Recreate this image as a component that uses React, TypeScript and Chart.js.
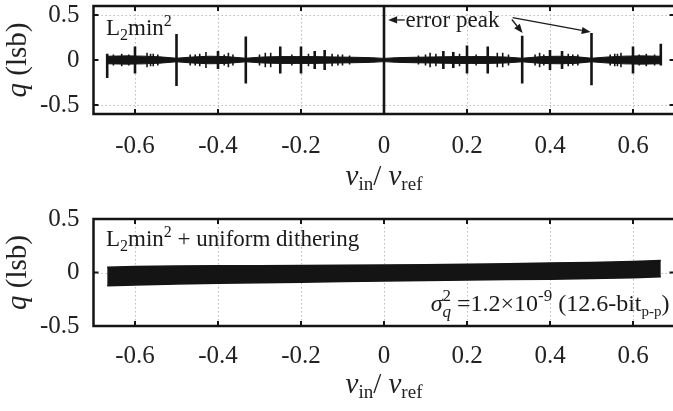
import React, { useEffect, useRef } from "react";
import { Chart, registerables } from "chart.js";
Chart.register(...registerables);

// ---------- axes ----------
const xTicks = [-0.6, -0.4, -0.2, 0, 0.2, 0.4, 0.6];
const xTickLabels = ["-0.6", "-0.4", "-0.2", "0", "0.2", "0.4", "0.6"];
const yTicks = [-0.5, 0, 0.5];
const yTickLabels = ["-0.5", "0", "0.5"];

// ---------- top panel: L2min2 quantisation error ----------
const bandX = [-0.667, -0.62, -0.58, -0.54, -0.5, -0.46, -0.42, -0.38, -0.333, -0.29, -0.25, -0.21, -0.17, -0.12, -0.07, -0.03, 0, 0.03, 0.07, 0.12, 0.17, 0.21, 0.25, 0.29, 0.333, 0.38, 0.42, 0.46, 0.5, 0.54, 0.58, 0.62, 0.667];
const bandHi = [0.042, 0.046, 0.043, 0.035, 0.02, 0.034, 0.042, 0.038, 0.02, 0.034, 0.038, 0.038, 0.038, 0.034, 0.03, 0.026, 0.018, 0.026, 0.03, 0.034, 0.038, 0.038, 0.038, 0.034, 0.02, 0.038, 0.042, 0.038, 0.02, 0.034, 0.043, 0.046, 0.042];
const bandLo = [-0.042, -0.046, -0.043, -0.035, -0.02, -0.034, -0.042, -0.038, -0.02, -0.034, -0.038, -0.038, -0.038, -0.034, -0.03, -0.026, -0.018, -0.026, -0.03, -0.034, -0.038, -0.038, -0.038, -0.034, -0.02, -0.038, -0.042, -0.038, -0.02, -0.034, -0.043, -0.046, -0.042];

const spikeX = [-0.667, -0.6, -0.5, -0.4, -0.333, -0.25, -0.2, -0.167, -0.143, 0, 0.143, 0.167, 0.2, 0.25, 0.333, 0.4, 0.429, 0.5, 0.6, 0.667];
const spikeHi = [0.07, 0.15, 0.29, 0.1, 0.26, 0.15, 0.15, 0.1, 0.11, 0.6, 0.1, 0.09, 0.16, 0.15, 0.27, 0.11, 0.1, 0.3, 0.15, 0.18];
const spikeLo = [-0.2, -0.15, -0.29, -0.1, -0.26, -0.15, -0.15, -0.1, -0.11, -0.6, -0.1, -0.09, -0.15, -0.15, -0.26, -0.11, -0.1, -0.28, -0.15, -0.06];

const minorX = [-0.652, -0.632, -0.615, -0.571, -0.5625, -0.556, -0.545, -0.467, -0.455, -0.444, -0.429, -0.385, -0.375, -0.364, -0.3, -0.286, -0.273, -0.222, -0.2, -0.182, -0.125, -0.111, -0.1, -0.083, 0.083, 0.1, 0.111, 0.125, 0.182, 0.222, 0.273, 0.286, 0.3, 0.364, 0.375, 0.385, 0.444, 0.455, 0.467, 0.545, 0.556, 0.5625, 0.571, 0.615, 0.632, 0.652];
const minorAmp = [0.06, 0.07, 0.06, 0.08, 0.07, 0.07, 0.06, 0.06, 0.06, 0.07, 0.09, 0.06, 0.08, 0.06, 0.06, 0.08, 0.08, 0.06, 0.06, 0.07, 0.07, 0.06, 0.06, 0.05, 0.05, 0.06, 0.08, 0.07, 0.07, 0.06, 0.08, 0.08, 0.06, 0.06, 0.08, 0.06, 0.07, 0.06, 0.06, 0.06, 0.07, 0.07, 0.08, 0.06, 0.07, 0.06];

// ---------- bottom panel: with uniform dithering ----------
const dithX = [-0.667, -0.6, -0.5, -0.4, -0.3, -0.2, -0.1, 0, 0.1, 0.2, 0.3, 0.4, 0.5, 0.6, 0.667];
const dithHi = [0.05, 0.055, 0.06, 0.062, 0.063, 0.066, 0.068, 0.07, 0.073, 0.077, 0.082, 0.088, 0.094, 0.103, 0.112];
const dithLo = [-0.125, -0.117, -0.108, -0.1, -0.095, -0.09, -0.085, -0.08, -0.075, -0.07, -0.066, -0.062, -0.056, -0.048, -0.04];

const SERIF = '"Liberation Serif", "Times New Roman", "DejaVu Serif", serif';
const INK = "#141414";

type Seg = { t: string; size: number; italic?: boolean; dy?: number; stack?: boolean };

function richWidth(ctx: CanvasRenderingContext2D, segs: Seg[]) {
  let w = 0;
  let pend = 0;
  for (const s of segs) {
    ctx.font = `${s.italic ? "italic " : ""}${s.size}px ${SERIF}`;
    const sw = ctx.measureText(s.t).width;
    if (s.stack) {
      pend = Math.max(pend, sw);
    } else {
      w += Math.max(sw, pend);
      pend = 0;
    }
  }
  return w + pend;
}

function drawRich(ctx: CanvasRenderingContext2D, segs: Seg[], x: number, y: number, align: "left" | "center" | "right" = "left") {
  const total = richWidth(ctx, segs);
  let cx = align === "left" ? x : align === "center" ? x - total / 2 : x - total;
  let pend = 0;
  ctx.textAlign = "left";
  ctx.textBaseline = "alphabetic";
  for (const s of segs) {
    ctx.font = `${s.italic ? "italic " : ""}${s.size}px ${SERIF}`;
    const sw = ctx.measureText(s.t).width;
    ctx.fillText(s.t, cx, y + (s.dy || 0));
    if (s.stack) {
      pend = Math.max(pend, sw);
    } else {
      cx += Math.max(sw, pend);
      pend = 0;
    }
  }
}

function arrow(ctx: CanvasRenderingContext2D, x0: number, y0: number, x1: number, y1: number) {
  const ang = Math.atan2(y1 - y0, x1 - x0);
  const L = 9, W = 3.6;
  const bx = x1 - L * Math.cos(ang), by = y1 - L * Math.sin(ang);
  ctx.beginPath();
  ctx.moveTo(x0, y0);
  ctx.lineTo(bx, by);
  ctx.stroke();
  ctx.beginPath();
  ctx.moveTo(x1, y1);
  ctx.lineTo(bx - W * Math.sin(ang), by + W * Math.cos(ang));
  ctx.lineTo(bx + W * Math.sin(ang), by - W * Math.cos(ang));
  ctx.closePath();
  ctx.fill();
}

function makePlugin(id: string, yGrid: number[], titleOffset: number, annotate: (chart: any, ctx: CanvasRenderingContext2D) => void) {
  return {
    id,
    beforeDatasetsDraw(chart: any) {
      const { ctx, chartArea: a, scales } = chart;
      const x = scales.x, y = scales.y;
      ctx.save();
      ctx.strokeStyle = "#bcbcbc";
      ctx.lineWidth = 1;
      ctx.setLineDash([1.5, 2.5]);
      for (const v of xTicks) {
        const px = Math.round(x.getPixelForValue(v)) + 0.5;
        ctx.beginPath();
        ctx.moveTo(px, a.top);
        ctx.lineTo(px, a.bottom);
        ctx.stroke();
      }
      for (const v of yGrid) {
        const py = Math.round(y.getPixelForValue(v)) + 0.5;
        ctx.beginPath();
        ctx.moveTo(a.left, py);
        ctx.lineTo(a.right, py);
        ctx.stroke();
      }
      ctx.restore();
    },
    afterDatasetsDraw(chart: any) {
      const { ctx, chartArea: a, scales } = chart;
      const x = scales.x, y = scales.y;
      ctx.save();
      ctx.strokeStyle = INK;
      ctx.lineWidth = 2.5;
      ctx.strokeRect(a.left, a.top, a.right - a.left, a.bottom - a.top);
      ctx.lineWidth = 2;
      const tl = 5;
      for (const v of xTicks) {
        const px = x.getPixelForValue(v);
        ctx.beginPath();
        ctx.moveTo(px, a.bottom);
        ctx.lineTo(px, a.bottom - tl);
        ctx.moveTo(px, a.top);
        ctx.lineTo(px, a.top + tl);
        ctx.stroke();
      }
      for (const v of yTicks) {
        const py = y.getPixelForValue(v);
        ctx.beginPath();
        ctx.moveTo(a.left, py);
        ctx.lineTo(a.left + tl, py);
        ctx.moveTo(a.right, py);
        ctx.lineTo(a.right - tl, py);
        ctx.stroke();
      }
      ctx.restore();
    },
    afterDraw(chart: any) {
      const { ctx, chartArea: a } = chart;
      ctx.save();
      ctx.fillStyle = "#222";
      drawRich(ctx, [
        { t: "v", size: 29, italic: true },
        { t: "in", size: 19, dy: 5 },
        { t: "/ ", size: 29 },
        { t: "v", size: 29, italic: true },
        { t: "ref", size: 19, dy: 5 },
      ], (a.left + a.right) / 2, a.bottom + titleOffset, "center");
      ctx.save();
      ctx.translate(26, (a.top + a.bottom) / 2);
      ctx.rotate(-Math.PI / 2);
      drawRich(ctx, [
        { t: "q", size: 29, italic: true },
        { t: " (lsb)", size: 29 },
      ], 0, 0, "center");
      ctx.restore();
      ctx.fillStyle = "#1a1a1a";
      ctx.strokeStyle = "#1a1a1a";
      annotate(chart, ctx);
      ctx.restore();
    },
  };
}

function pairs(xs: number[], ys: number[]) {
  return xs.map((v, i) => ({ x: v, y: ys[i] }));
}

function segments(xs: number[], hi: number[], lo: number[]) {
  const out: any[] = [];
  xs.forEach((v, i) => {
    out.push({ x: v, y: hi[i] });
    out.push({ x: v, y: lo[i] });
    out.push({ x: v, y: null });
  });
  return out;
}

function baseOptions(yMin: number, yMax: number, padTop: number, xAxisH: number, tickPad: number) {
  const tickFont = { family: SERIF, size: 25 };
  return {
    responsive: false,
    animation: false as const,
    events: [] as any[],
    layout: { autoPadding: false, padding: { left: 0, right: 15.5, top: padTop, bottom: 0 } },
    plugins: { legend: { display: false }, tooltip: { enabled: false } },
    elements: { point: { radius: 0 }, line: { tension: 0 } },
    scales: {
      x: {
        type: "linear" as const,
        min: -0.7,
        max: 0.7,
        afterBuildTicks: (s: any) => { s.ticks = xTicks.map((v) => ({ value: v })); },
        afterFit: (s: any) => { s.height = xAxisH; s.paddingLeft = 0; s.paddingRight = 0; s.paddingTop = 0; s.paddingBottom = 0; },
        ticks: {
          callback: (_v: any, i: number) => xTickLabels[i],
          font: tickFont,
          color: "#222",
          padding: tickPad,
          maxRotation: 0,
          autoSkip: false,
        },
        grid: { display: false, drawTicks: false },
        border: { display: false },
      },
      y: {
        type: "linear" as const,
        min: yMin,
        max: yMax,
        afterBuildTicks: (s: any) => { s.ticks = yTicks.map((v) => ({ value: v })); },
        afterFit: (s: any) => { s.width = 93.5; s.paddingTop = 0; s.paddingBottom = 0; s.paddingLeft = 0; s.paddingRight = 0; },
        ticks: {
          callback: (_v: any, i: number) => yTickLabels[i],
          font: tickFont,
          color: "#222",
          padding: 14,
          autoSkip: false,
        },
        grid: { display: false, drawTicks: false },
        border: { display: false },
      },
    },
  };
}

export default function App() {
  const topRef = useRef<HTMLCanvasElement>(null);
  const botRef = useRef<HTMLCanvasElement>(null);

  useEffect(() => {
    const topPlugin = makePlugin("frameTop", [-0.5, 0.5], 71, (chart, ctx) => {
      const x = chart.scales.x, y = chart.scales.y;
      drawRich(ctx, [
        { t: "L", size: 23 },
        { t: "2", size: 16, dy: 5 },
        { t: "min", size: 23 },
        { t: "2", size: 16, dy: -9 },
      ], x.getPixelForValue(-0.67), y.getPixelForValue(0.28));
      ctx.lineWidth = 1.3;
      arrow(ctx, x.getPixelForValue(0.05), y.getPixelForValue(0.445), x.getPixelForValue(0.01), y.getPixelForValue(0.445));
      drawRich(ctx, [{ t: "error peak", size: 23 }], x.getPixelForValue(0.052), y.getPixelForValue(0.37));
      arrow(ctx, x.getPixelForValue(0.308), y.getPixelForValue(0.45), x.getPixelForValue(0.334), y.getPixelForValue(0.3));
      arrow(ctx, x.getPixelForValue(0.31), y.getPixelForValue(0.47), x.getPixelForValue(0.498), y.getPixelForValue(0.31));
    });

    const botPlugin = makePlugin("frameBot", [0], 67, (chart, ctx) => {
      const x = chart.scales.x, y = chart.scales.y;
      drawRich(ctx, [
        { t: "L", size: 23 },
        { t: "2", size: 16, dy: 5 },
        { t: "min", size: 23 },
        { t: "2", size: 16, dy: -9 },
        { t: " + uniform dithering", size: 23 },
      ], x.getPixelForValue(-0.67), y.getPixelForValue(0.245));
      drawRich(ctx, [
        { t: "σ", size: 24, italic: true },
        { t: "q", size: 17, italic: true, dy: 6, stack: true },
        { t: "2", size: 17, dy: -10 },
        { t: " =1.2×10", size: 24 },
        { t: "-9", size: 17, dy: -10 },
        { t: " (12.6-bit", size: 24 },
        { t: "p-p", size: 15, dy: 5 },
        { t: ")", size: 24 },
      ], x.getPixelForValue(0.688), y.getPixelForValue(-0.36), "right");
    });

    const topChart = new Chart(topRef.current!, {
      type: "line",
      data: {
        datasets: [
          { data: pairs(bandX, bandHi), borderColor: INK, backgroundColor: INK, borderWidth: 1, fill: "+1" },
          { data: pairs(bandX, bandLo), borderColor: INK, borderWidth: 1, fill: false },
          { data: segments(minorX, minorAmp, minorAmp.map((v) => -v)), borderColor: INK, borderWidth: 1.6, spanGaps: false, fill: false },
          { data: segments(spikeX, spikeHi, spikeLo), borderColor: INK, borderWidth: 2.6, spanGaps: false, fill: false },
        ],
      } as any,
      options: baseOptions(-0.6, 0.6, 6, 86, 17) as any,
      plugins: [topPlugin],
    });

    const botChart = new Chart(botRef.current!, {
      type: "line",
      data: {
        datasets: [
          { data: pairs(dithX, dithHi), borderColor: INK, backgroundColor: INK, borderWidth: 1.5, fill: "+1" },
          { data: pairs(dithX, dithLo), borderColor: INK, borderWidth: 1.5, fill: false },
        ],
      } as any,
      options: baseOptions(-0.5, 0.5, 19, 85, 15) as any,
      plugins: [botPlugin],
    });

    return () => {
      topChart.destroy();
      botChart.destroy();
    };
  }, []);

  return (
    <div style={{ position: "fixed", left: 0, top: 0, width: 673, height: 411, overflow: "hidden", background: "#fff" }}>
      <canvas ref={topRef} width={690} height={200} style={{ position: "absolute", left: 0, top: 0, width: 690, height: 200 }} />
      <canvas ref={botRef} width={690} height={211} style={{ position: "absolute", left: 0, top: 200, width: 690, height: 211 }} />
    </div>
  );
}
